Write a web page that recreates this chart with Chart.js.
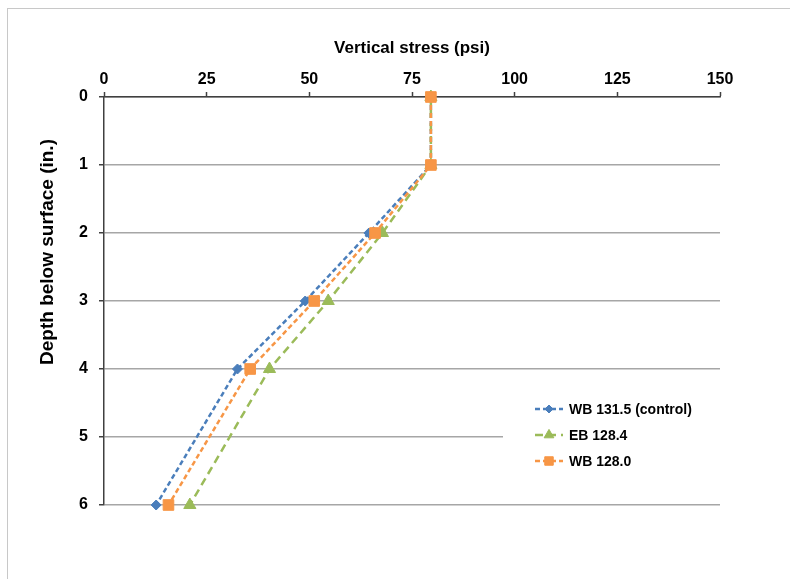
<!DOCTYPE html>
<html>
<head>
<meta charset="utf-8">
<style>
  html, body { margin: 0; padding: 0; background: #fff; }
  #wrap { position: relative; width: 790px; height: 579px; overflow: hidden; }
  #frame { position: absolute; left: 7px; top: 8px; width: 800px; height: 600px; border: 1px solid #c8c8c8; }
  #stressChart { position: absolute; left: 0; top: 0; }
</style>
<script src="https://cdn.jsdelivr.net/npm/chart.js@4.4.0/dist/chart.umd.min.js"></script>
</head>
<body>
<div id="wrap">
  <div id="frame"></div>
  <canvas id="stressChart" width="790" height="579"></canvas>
</div>
<script>
// Depth (in.) vs vertical stress (psi)
const depths = [0, 1, 2, 3, 4, 6];
const wb1315 = [79.6, 79.6, 64.5, 49.0, 32.5, 12.7];
const eb1284 = [79.6, 79.6, 67.8, 54.6, 40.3, 20.9];
const wb1280 = [79.6, 79.6, 66.0, 51.2, 35.6, 15.7];
const seriesNames = ['WB 131.5 (control)', 'EB 128.4', 'WB 128.0'];
const stressTicks = [0, 25, 50, 75, 100, 125, 150];
const depthTicks = [0, 1, 2, 3, 4, 5, 6];

const FONT = '"Liberation Sans", Arial, sans-serif';

function toPoints(values) {
    return depths.map((d, i) => ({ x: values[i], y: d }));
}

const series = [
    { label: seriesNames[0], values: wb1315, color: '#4A7EBB', style: 'rectRot', radius: 5,   dash: [5, 3], order: 2 },
    { label: seriesNames[1], values: eb1284, color: '#9BBB59', style: 'triangle', radius: 7,  dash: [8, 5], order: 1 },
    { label: seriesNames[2], values: wb1280, color: '#F79646', style: 'rect', radius: 7.5,    dash: [5, 3], order: 0 }
];

// legend drawn inside the plot, on a white box that hides the grid line behind it
// the y title sits off-centre like in the original, so it is drawn here too
const insideLegend = {
    id: 'insideLegend',
    beforeDatasetsDraw(chart) {
        const { ctx, chartArea: a } = chart;
        ctx.save();
        ctx.fillStyle = '#fff';
        ctx.fillRect(a.right - 217, a.top + 290, 230, 95);
        ctx.restore();
    },
    afterDraw(chart) {
        const { ctx, chartArea: a } = chart;
        const x0 = a.right - 185;
        series.forEach((s, i) => {
            const y = a.top + 312 + i * 26;
            ctx.save();
            ctx.strokeStyle = s.color;
            ctx.lineWidth = 2.5;
            ctx.setLineDash(s.dash);
            ctx.beginPath();
            ctx.moveTo(x0, y);
            ctx.lineTo(x0 + 28, y);
            ctx.stroke();
            ctx.setLineDash([]);
            ctx.fillStyle = s.color;
            ctx.strokeStyle = s.color;
            ctx.lineWidth = 1;
            Chart.helpers.drawPoint(ctx, { pointStyle: s.style, radius: s.radius * 0.8, rotation: 0, borderWidth: 1 }, x0 + 14, y);
            ctx.fillStyle = '#000';
            ctx.font = 'bold 14px ' + FONT;
            ctx.textBaseline = 'middle';
            ctx.textAlign = 'left';
            ctx.fillText(s.label, x0 + 34, y + 1);
            ctx.restore();
        });

        ctx.save();
        ctx.translate(47.5, a.top + 155);
        ctx.rotate(-Math.PI / 2);
        ctx.fillStyle = '#000';
        ctx.font = 'bold 19px ' + FONT;
        ctx.textAlign = 'center';
        ctx.textBaseline = 'middle';
        ctx.fillText('Depth below surface (in.)', 0, 0);
        ctx.restore();
    }
};

new Chart(document.getElementById('stressChart').getContext('2d'), {
    type: 'scatter',
    data: {
        datasets: series.map(s => ({
            label: s.label,
            data: toPoints(s.values),
            showLine: true,
            borderColor: s.color,
            backgroundColor: s.color,
            borderWidth: 2.5,
            borderDash: s.dash,
            pointStyle: s.style,
            pointRadius: s.radius,
            pointBorderWidth: 1,
            order: s.order,
            clip: false
        }))
    },
    options: {
        responsive: false,
        animation: false,
        layout: { padding: { left: 0, top: 0, right: 70, bottom: 74 } },
        plugins: {
            legend: { display: false },
            tooltip: { enabled: false }
        },
        scales: {
            x: {
                type: 'linear',
                position: 'top',
                min: stressTicks[0],
                max: stressTicks[stressTicks.length - 1],
                afterBuildTicks: s => { s.ticks = stressTicks.map(v => ({ value: v })); },
                afterFit: s => { s.height = 97; },
                ticks: { font: { family: FONT, size: 16, weight: 'bold' }, color: '#000', padding: 3, maxRotation: 0 },
                grid: { drawOnChartArea: false, tickLength: 5, tickColor: '#404040', tickWidth: 1.5 },
                border: { color: '#404040', width: 1.5 },
                title: {
                    display: true,
                    text: 'Vertical stress (psi)',
                    font: { family: FONT, size: 17, weight: 'bold' },
                    color: '#000',
                    padding: { top: 38, bottom: 0 }
                }
            },
            y: {
                type: 'linear',
                reverse: true,
                min: depthTicks[0],
                max: depthTicks[depthTicks.length - 1],
                afterBuildTicks: s => { s.ticks = depthTicks.map(v => ({ value: v })); },
                afterFit: s => { s.width = 104; },
                ticks: { font: { family: FONT, size: 16, weight: 'bold' }, color: '#000', padding: 11 },
                grid: { color: '#a6a6a6', lineWidth: 1.5, tickLength: 5, tickColor: '#404040', tickWidth: 1.5 },
                border: { color: '#404040', width: 1.5 },
                title: { display: false }
            }
        }
    },
    plugins: [insideLegend]
});
</script>
</body>
</html>
